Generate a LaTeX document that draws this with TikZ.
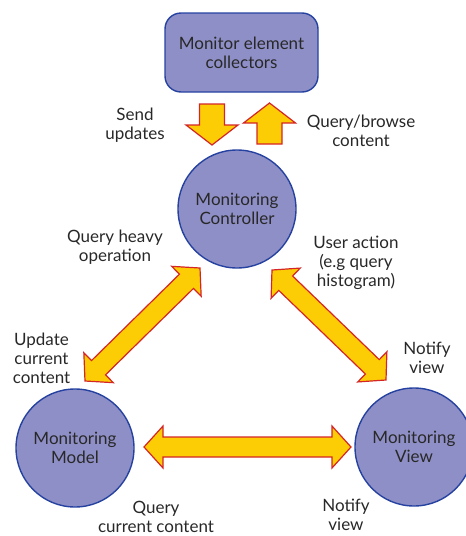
\documentclass[tikz,border=0pt]{standalone}
\usepackage{fontspec}
\setmainfont{Lato}
\usetikzlibrary{calc}

\definecolor{mvcfill}{RGB}{143,143,199}
\definecolor{mvcline}{RGB}{38,66,160}
\definecolor{fatfill}{RGB}{252,204,4}
\definecolor{fatline}{RGB}{212,38,38}
\definecolor{txt}{RGB}{40,40,40}

% fat double arrow between two tips
\newcommand{\fatarrow}[2]{%
  \filldraw[fat] (#1)
    -- ($(#1)!19pt!(#2)!21pt!90:(#2)$)
    -- ($(#1)!19pt!(#2)!10pt!90:(#2)$)
    -- ($(#2)!19pt!(#1)!10pt!-90:(#1)$)
    -- ($(#2)!19pt!(#1)!21pt!-90:(#1)$)
    -- (#2)
    -- ($(#2)!19pt!(#1)!21pt!90:(#1)$)
    -- ($(#2)!19pt!(#1)!10pt!90:(#1)$)
    -- ($(#1)!19pt!(#2)!10pt!-90:(#2)$)
    -- ($(#1)!19pt!(#2)!21pt!-90:(#2)$)
    -- cycle;}

% block arrow from tail to tip
\newcommand{\blockarrow}[2]{%
  \filldraw[fat] ($(#1)!12.5pt!90:(#2)$)
    -- ($(#2)!20pt!(#1)!12.5pt!-90:(#1)$)
    -- ($(#2)!20pt!(#1)!26pt!-90:(#1)$)
    -- (#2)
    -- ($(#2)!20pt!(#1)!26pt!90:(#1)$)
    -- ($(#2)!20pt!(#1)!12.5pt!90:(#1)$)
    -- ($(#1)!12.5pt!-90:(#2)$)
    -- cycle;}

\begin{document}
\begin{tikzpicture}[
  x=1pt, y=-1pt,
  part/.style={
    draw=mvcline, line width=1.4pt, fill=mvcfill, text=txt, align=center,
    font=\fontsize{17}{19}\selectfont,
  },
  roundbox/.style={part, rounded corners=16pt, minimum width=153pt, minimum height=79pt},
  ball/.style={part, circle, minimum size=118pt, inner sep=0pt},
  lbl/.style={text=txt, align=center, font=\fontsize{17}{19}\selectfont},
  fat/.style={draw=fatline, fill=fatfill, line width=1.2pt, line join=miter},
]
\useasboundingbox (0,0) rectangle (466,536);

% Components
\node[roundbox] (collect) at (241.5,52.5) {Monitor element\\collectors};
\node[ball] (ctrl) at (237,209) {Monitoring\\Controller};
\node[ball] (model) at (75,448) {Monitoring\\Model};
\node[ball] (view) at (414,447) {Monitoring\\View};

% Arrow ends
\coordinate (sendtail) at (212,104);
\coordinate (sendtip) at (212,145);
\coordinate (browsetail) at (269.5,144);
\coordinate (browsetip) at (269.5,103);
\coordinate (heavyup) at (200,268);
\coordinate (heavydown) at (85,381);
\coordinate (userup) at (272,270);
\coordinate (userdown) at (386,380);
\coordinate (curleft) at (144,447);
\coordinate (curright) at (351,447);

% Block and fat arrows
\blockarrow{sendtail}{sendtip}
\blockarrow{browsetail}{browsetip}
\fatarrow{heavyup}{heavydown}
\fatarrow{userup}{userdown}
\fatarrow{curleft}{curright}

% Labels
\node[lbl] (sendlbl) at (135,125) {Send\\updates};
\node[lbl] (browselbl) at (361,131) {Query/browse\\content};
\node[lbl] (heavylbl) at (115,247) {Query heavy\\operation};
\node[lbl] (userlbl) at (356,263) {User action\\(e.g query\\histogram)};
\node[lbl] (updlbl) at (41.5,358) {Update\\current\\content};
\node[lbl] (notifyup) at (427,358) {Notify\\view};
\node[lbl] (curlbl) at (156,516.5) {Query\\current content};
\node[lbl] (notifylow) at (346,515) {Notify\\view};

\end{tikzpicture}
\end{document}
